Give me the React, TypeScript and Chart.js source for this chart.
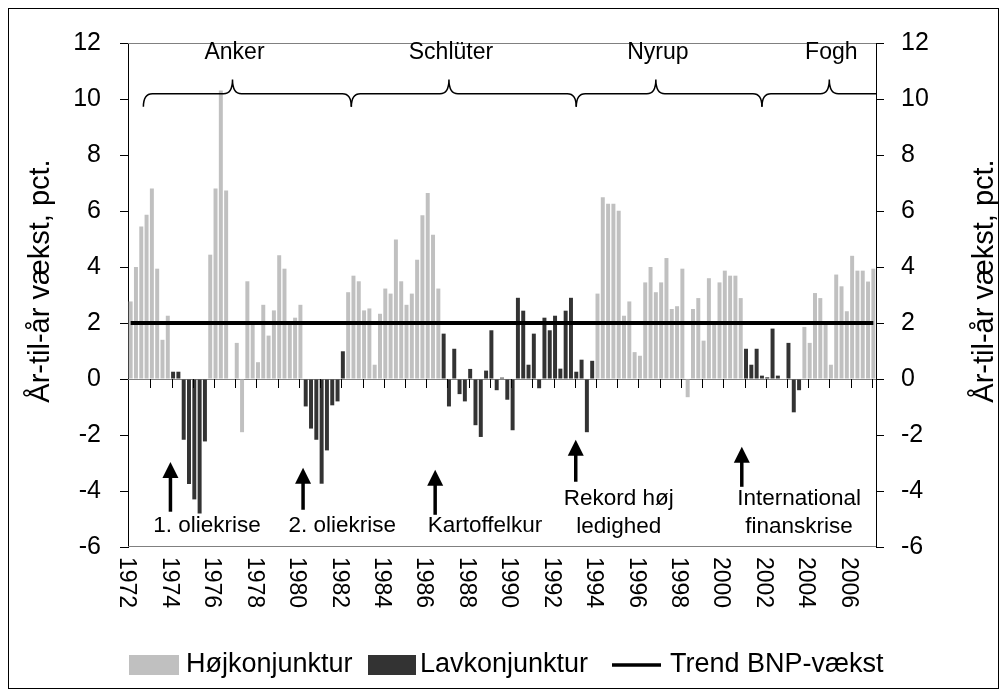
import React, { useEffect, useRef } from "react";
import { Chart, registerables } from "chart.js";

Chart.register(...registerables);

// ---------- data ----------
const YEARS = [1972, 1973, 1974, 1975, 1976, 1977, 1978, 1979, 1980, 1981, 1982, 1983, 1984, 1985, 1986, 1987, 1988, 1989, 1990, 1991, 1992, 1993, 1994, 1995, 1996, 1997, 1998, 1999, 2000, 2001, 2002, 2003, 2004, 2005, 2006, 2007];
const QUARTERS = ["K1", "K2", "K3", "K4"];
const N_QUARTERS = 141; // 1972K1 - 2007K1

// year-on-year GDP growth, pct. (one row per year, quarterly)
const GROWTH = [
  2.77, 4.0, 5.45, 5.87,
  6.8, 3.94, 1.4, 2.26,
  0.26, 0.26, -2.17, -3.75,
  -4.3, -4.8, -2.23, 4.44,
  6.8, 10.3, 6.73, 0,
  1.29, -1.9, 3.49, 1.94,
  0.6, 2.65, 1.55, 2.45,
  4.42, 3.94, 1.94, 2.19,
  2.65, -0.98, -1.77, -2.17,
  -3.74, -2.55, -0.94, -0.8,
  0.99, 3.1, 3.69, 3.49,
  2.45, 2.52, 0.51, 2.33,
  3.23, 3.05, 4.98, 3.49,
  2.65, 3.05, 4.26, 5.85,
  6.64, 5.15, 3.23, 1.62,
  -0.98, 1.08, -0.54, -0.8,
  0.36, -1.65, -2.07, 0.3,
  1.74, -0.4, 0.05, -0.74,
  -1.83, 2.9, 2.44, 0.51,
  1.62, -0.33, 2.19, 1.74,
  2.26, 0.37, 2.44, 2.9,
  0.26, 0.69, -1.9, 0.65,
  3.05, 6.49, 6.26, 6.26,
  6.01, 2.26, 2.77, 0.96,
  0.83, 3.45, 4.0, 3.1,
  3.45, 4.32, 2.5, 2.6,
  3.94, -0.65, 2.5, 2.89,
  1.37, 3.6, 2.0, 3.45,
  3.87, 3.69, 3.69, 2.89,
  1.08, 0.51, 1.08, 0.12,
  0.06, 1.8, 0.12, 0,
  1.29, -1.19, -0.4, 1.86,
  1.29, 3.07, 2.89, 2.0,
  0.51, 3.73, 3.31, 2.42,
  4.4, 3.87, 3.87, 3.48,
  3.94,
];

// business-cycle phase, as consecutive runs of quarters (H = høj, L = lav)
const PHASE_RUNS: [string, number][] = [
  ["H", 8], ["L", 7], ["H", 18], ["L", 8], ["H", 18], ["L", 29], ["H", 28], ["L", 11], ["H", 14],
];

const TREND_GROWTH = 2;

const TICK_YEARS = ["1972", "1974", "1976", "1978", "1980", "1982", "1984", "1986", "1988", "1990", "1992", "1994", "1996", "1998", "2000", "2002", "2004", "2006"];

const Y_TITLE = "År-til-år vækst, pct.";
const SERIES_NAMES = ["Højkonjunktur", "Lavkonjunktur", "Trend BNP-vækst"];
const COLOR_HOJ = "#c0c0c0";
const COLOR_LAV = "#333333";

// governments: category positions (quarter index)
const GOVERNMENTS = [
  { name: "Anker", from: 2.4, to: 41.6, peak: 19.2, hookRight: true },
  { name: "Schlüter", from: 41.6, to: 84, peak: 60, hookRight: true },
  { name: "Nyrup", from: 84, to: 119, peak: 99, hookRight: true },
  { name: "Fogh", from: 119, to: 140.6, peak: 131.7, hookRight: false },
];

// events: arrow at quarter index, text centre at quarter index
const EVENTS = [
  { lines: ["1. oliekrise"], arrowAt: 7.5, tip: -2.96, tail: -4.74, textAt: 14.4 },
  { lines: ["2. oliekrise"], arrowAt: 32.5, tip: -3.17, tail: -4.67, textAt: 39.9 },
  { lines: ["Kartoffelkur"], arrowAt: 57.4, tip: -3.24, tail: -4.85, textAt: 66.8 },
  { lines: ["Rekord høj", "ledighed"], arrowAt: 83.9, tip: -2.17, tail: -3.67, textAt: 92 },
  { lines: ["International", "finanskrise"], arrowAt: 115.2, tip: -2.42, tail: -3.85, textAt: 126 },
];

// ---------- derived ----------
const CATEGORIES: string[] = [];
YEARS.forEach((yr) => QUARTERS.forEach((q) => CATEGORIES.push(`${yr}${q}`)));
CATEGORIES.length = N_QUARTERS;

const PHASE: string[] = [];
PHASE_RUNS.forEach(([p, n]) => { for (let i = 0; i < n; i++) PHASE.push(p); });

const HOJ = GROWTH.map((v, i) => (PHASE[i] === "H" ? v : null));
const LAV = GROWTH.map((v, i) => (PHASE[i] === "L" ? v : null));
const TREND = CATEGORIES.map(() => TREND_GROWTH);

const FAMILY = '"Liberation Sans", Arial, sans-serif';
const font = (s: number) => `${s}px ${FAMILY}`;

function catPx(chart: any, k: number) {
  const x = chart.scales.x;
  const p0 = x.getPixelForValue(0);
  const p1 = x.getPixelForValue(1);
  return p0 + k * (p1 - p0);
}

const overlay = {
  id: "overlay",
  beforeDatasetsDraw(chart: any) {
    const { ctx, chartArea: a, scales } = chart;
    const y = scales.y;
    ctx.save();
    ctx.strokeStyle = "#808080";
    ctx.lineWidth = 1;
    ctx.beginPath();
    const t = Math.round(a.top) + 0.5;
    const b = Math.round(a.bottom) - 0.5;
    ctx.moveTo(a.left, t); ctx.lineTo(a.right, t);
    ctx.moveTo(a.left, b); ctx.lineTo(a.right, b);
    const y0 = Math.round(y.getPixelForValue(0)) + 0.5;
    ctx.moveTo(a.left, y0); ctx.lineTo(a.right, y0);
    ctx.stroke();
    ctx.restore();
  },
  afterDraw(chart: any) {
    const { ctx, chartArea: a, scales } = chart;
    const y = scales.y;
    const Y = (v: number) => y.getPixelForValue(v);
    ctx.save();

    // year tick marks on the zero line
    const y0 = Math.round(Y(0));
    ctx.strokeStyle = "#000";
    ctx.lineWidth = 1;
    ctx.beginPath();
    for (let k = 4; k < N_QUARTERS; k += 4) {
      const xx = Math.round(catPx(chart, k) - 1.5) + 0.5;
      ctx.moveTo(xx, y0); ctx.lineTo(xx, y0 + 9);
    }
    ctx.stroke();

    // x labels, rotated clockwise
    ctx.fillStyle = "#000";
    ctx.font = font(23);
    ctx.textAlign = "left";
    ctx.textBaseline = "middle";
    TICK_YEARS.forEach((lab) => {
      const k = (parseInt(lab, 10) - YEARS[0]) * 4;
      ctx.save();
      ctx.translate(catPx(chart, k) - 4, a.bottom + 10);
      ctx.rotate(Math.PI / 2);
      ctx.fillText(lab, 0, 0);
      ctx.restore();
    });

    // government braces
    ctx.strokeStyle = "#000";
    ctx.lineWidth = 1.5;
    const yLine = Y(10.19), yHook = Y(9.72), yPeak = Y(10.7);
    const r = 9;
    GOVERNMENTS.forEach((g) => {
      const x1 = catPx(chart, g.from), x2 = catPx(chart, g.to), xp = catPx(chart, g.peak);
      ctx.beginPath();
      ctx.moveTo(x1, yHook);
      ctx.quadraticCurveTo(x1, yLine, x1 + r, yLine);
      ctx.lineTo(xp - r, yLine);
      ctx.quadraticCurveTo(xp, yLine, xp, yPeak);
      ctx.quadraticCurveTo(xp, yLine, xp + r, yLine);
      if (g.hookRight) {
        ctx.lineTo(x2 - r, yLine);
        ctx.quadraticCurveTo(x2, yLine, x2, yHook);
      } else {
        ctx.lineTo(x2, yLine);
      }
      ctx.stroke();
      ctx.font = font(23);
      ctx.textAlign = "center";
      ctx.textBaseline = "middle";
      ctx.fillText(g.name, xp + 2, Y(11.65));
    });

    // event arrows and texts
    ctx.fillStyle = "#000";
    EVENTS.forEach((e) => {
      const xa = catPx(chart, e.arrowAt);
      const tip = Y(e.tip), tail = Y(e.tail);
      const hw = 8, hh = 16;
      ctx.lineWidth = 3.5;
      ctx.beginPath();
      ctx.moveTo(xa, tail); ctx.lineTo(xa, tip + hh - 1);
      ctx.stroke();
      ctx.beginPath();
      ctx.moveTo(xa, tip); ctx.lineTo(xa - hw, tip + hh); ctx.lineTo(xa + hw, tip + hh);
      ctx.closePath(); ctx.fill();
      ctx.font = font(22.5);
      ctx.textAlign = "center";
      ctx.textBaseline = "middle";
      const xt = catPx(chart, e.textAt);
      if (e.lines.length === 1) {
        ctx.fillText(e.lines[0], xt, Y(-5.24));
      } else {
        ctx.fillText(e.lines[0], xt, Y(-4.28));
        ctx.fillText(e.lines[1], xt, Y(-5.28));
      }
    });

    // legend
    const ly = 656;
    ctx.font = font(27);
    ctx.textAlign = "left";
    ctx.textBaseline = "middle";
    ctx.fillStyle = COLOR_HOJ;
    ctx.fillRect(120, ly - 10, 50, 20);
    ctx.fillStyle = "#000";
    ctx.fillText(SERIES_NAMES[0], 177, ly);
    ctx.fillStyle = COLOR_LAV;
    ctx.fillRect(359, ly - 10, 48, 20);
    ctx.fillStyle = "#000";
    ctx.fillText(SERIES_NAMES[1], 411, ly);
    ctx.lineWidth = 3.5;
    ctx.beginPath();
    ctx.moveTo(603, ly); ctx.lineTo(652, ly);
    ctx.stroke();
    ctx.fillText(SERIES_NAMES[2], 661, ly);

    // axis titles (both read bottom to top)
    ctx.font = font(29);
    ctx.textAlign = "center";
    ctx.textBaseline = "middle";
    [32, 976].forEach((tx) => {
      ctx.save();
      ctx.translate(tx, 272);
      ctx.rotate(-Math.PI / 2);
      ctx.fillText(Y_TITLE, 0, 0);
      ctx.restore();
    });

    ctx.restore();
  },
};

const yAxis = (position: "left" | "right", width: number, pad: number) => ({
  position,
  min: -6,
  max: 12,
  ticks: { stepSize: 2, color: "#000", font: { family: FAMILY, size: 25 }, padding: pad },
  grid: { drawOnChartArea: false, color: "#000", tickLength: 8, tickWidth: 1 },
  border: { color: "#000", width: 1 },
  afterFit(s: any) { s.width = width; },
});

export default function App() {
  const ref = useRef<HTMLCanvasElement | null>(null);
  useEffect(() => {
    if (!ref.current) return;
    const chart = new Chart(ref.current, {
      type: "bar",
      data: {
        labels: CATEGORIES,
        datasets: [
          {
            type: "line",
            label: SERIES_NAMES[2],
            data: TREND,
            borderColor: "#000",
            borderWidth: 4,
            pointRadius: 0,
            fill: false,
            order: 0,
          } as any,
          {
            label: SERIES_NAMES[0],
            data: HOJ,
            backgroundColor: COLOR_HOJ,
            grouped: false,
            categoryPercentage: 1,
            barPercentage: 0.75,
            order: 1,
          },
          {
            label: SERIES_NAMES[1],
            data: LAV,
            backgroundColor: COLOR_LAV,
            grouped: false,
            categoryPercentage: 1,
            barPercentage: 0.75,
            order: 1,
          },
        ],
      },
      options: {
        responsive: false,
        animation: false,
        devicePixelRatio: 1,
        layout: { padding: { top: 34, bottom: 141, left: 0, right: 0 } },
        plugins: { legend: { display: false }, tooltip: { enabled: false } },
        scales: {
          x: { type: "category", display: false, offset: true },
          y: yAxis("left", 119, 19),
          y2: yAxis("right", 122, 17),
        } as any,
      },
      plugins: [overlay],
    });
    return () => chart.destroy();
  }, []);

  return (
    <div style={{ width: 991, height: 681, border: "1px solid #000", boxSizing: "border-box", background: "#fff" }}>
      <canvas ref={ref} width={989} height={679} style={{ display: "block" }} />
    </div>
  );
}
